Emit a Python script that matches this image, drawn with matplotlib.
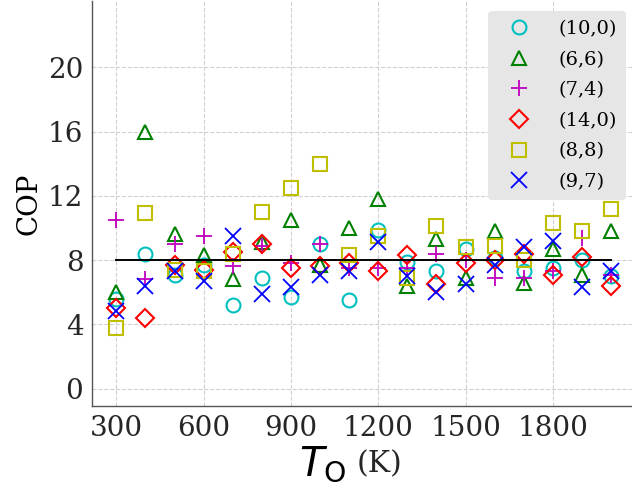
import matplotlib
matplotlib.use("Agg")
import matplotlib.pyplot as plt

temps = [300, 400, 500, 600, 700, 800, 900, 1000, 1100, 1200, 1300, 1400,
         1500, 1600, 1700, 1800, 1900, 2000]

labels = ["(10,0)", "(6,6)", "(7,4)", "(14,0)", "(8,8)", "(9,7)"]

cop_10_0 = [5.6, 8.4, 7.1, 7.7, 5.2, 6.9, 5.7, 9.0, 5.5, 9.9, 7.9, 7.3, 8.7, 8.1, 7.3, 7.5, 8.0, 7.0]
cop_6_6 = [6.0, 16.0, 9.6, 8.3, 6.8, 9.1, 10.5, 7.7, 10.0, 11.8, 6.4, 9.3, 6.9, 9.8, 6.6, 8.7, 7.1, 9.8]
cop_7_4 = [10.5, 6.8, 9.0, 9.5, 7.6, 8.9, 7.8, 9.0, 7.5, 7.5, 7.5, 8.4, 8.0, 6.9, 6.9, 7.3, 9.4, 7.1]
cop_14_0 = [5.0, 4.4, 7.7, 7.4, 8.5, 9.0, 7.5, 7.6, 7.8, 7.3, 8.3, 6.5, 7.8, 8.0, 8.4, 7.1, 8.2, 6.4]
cop_8_8 = [3.8, 10.9, 7.4, 7.3, 8.4, 11.0, 12.5, 14.0, 8.3, 9.5, 6.9, 10.1, 8.8, 8.9, 8.0, 10.3, 9.8, 11.2]
cop_9_7 = [4.8, 6.4, 7.3, 6.7, 9.5, 5.9, 6.3, 7.1, 7.3, 9.1, 7.0, 6.0, 6.5, 7.7, 8.8, 9.2, 6.3, 7.3]

mean_cop = 8.0

series = [cop_10_0, cop_6_6, cop_7_4, cop_14_0, cop_8_8, cop_9_7]
markers = ["o", "^", "+", "D", "s", "x"]
colors = ["c", "g", "m", "r", "y", "b"]

xticks = [300, 600, 900, 1200, 1500, 1800]
yticks = [0, 4, 8, 12, 16, 20]

plt.rcParams["font.family"] = "DejaVu Serif"

fig = plt.figure(figsize=(6.32, 4.9), dpi=100)
ax = fig.add_axes([0.145, 0.171, 0.861, 0.826])

for vals, mk, col, lab in zip(series, markers, colors, labels):
    if mk in ("+", "x"):
        ax.plot(temps, vals, linestyle="none", marker=mk, color=col,
                markersize=11, markeredgewidth=1.3, label=lab)
    else:
        ax.plot(temps, vals, linestyle="none", marker=mk, color=col,
                markerfacecolor="none", markersize=10 if mk != "D" else 9,
                markeredgewidth=1.5, label=lab)

ax.plot([temps[0], temps[-1]], [mean_cop, mean_cop], color="black", lw=1.4)

ax.set_xlim(215, 2085)
ax.set_ylim(-1.1, 24.1)
ax.set_xticks(xticks)
ax.set_yticks(yticks)
ax.tick_params(axis="both", length=0, labelsize=20, colors="#262626", pad=6)
ax.grid(True, linestyle="--", color="#d0d0d0", lw=0.8)
ax.set_axisbelow(True)
for s in ["top", "right"]:
    ax.spines[s].set_visible(False)
for s in ["left", "bottom"]:
    ax.spines[s].set_color("#555555")
    ax.spines[s].set_linewidth(1.0)

ax.set_ylabel("COP", fontsize=20, labelpad=4)

fig.text(299 / 632, 1 - 475 / 490, r"$T_{\mathrm{O}}$", fontsize=29,
         ha="left", va="baseline")
fig.text(357 / 632, 1 - 472 / 490, "(K)", fontsize=21.5, ha="left", va="baseline",
         color="#262626")

leg = ax.legend(loc="upper right", fontsize=14, frameon=True, fancybox=True,
                facecolor="#e6e6e6", edgecolor="none", framealpha=1.0,
                borderaxespad=0.5, handletextpad=0.9, handlelength=2.3,
                labelspacing=0.65, borderpad=0.45)

fig.savefig("out.png", dpi=100)
